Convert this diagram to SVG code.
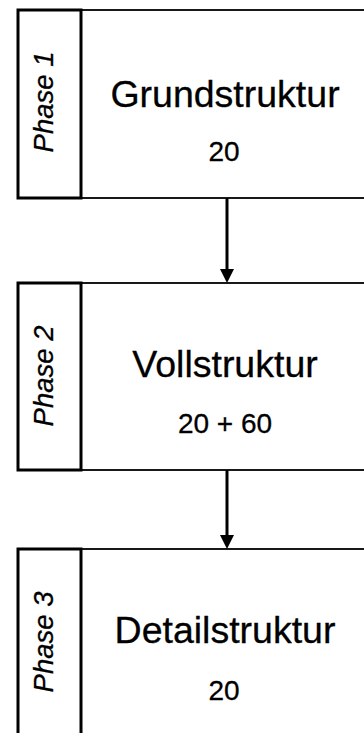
<svg xmlns="http://www.w3.org/2000/svg" width="364" height="733" viewBox="0 0 364 733">
<defs>
<style>
.main{fill:#fff;stroke:#000;stroke-width:1.8}
.tab{fill:#fff;stroke:#000;stroke-width:3}
.title{font-family:"Liberation Sans",Arial,sans-serif;font-size:37.5px;text-anchor:middle;fill:#000;stroke:#000;stroke-width:0.3}
.num{font-family:"Liberation Sans",Arial,sans-serif;font-size:28px;text-anchor:middle;fill:#000;stroke:#000;stroke-width:0.3}
.phase{font-family:"Liberation Sans",Arial,sans-serif;font-size:27.5px;font-style:italic;text-anchor:middle;fill:#000;stroke:#000;stroke-width:0.3}
.conn{stroke:#000;stroke-width:3;fill:none}
</style>
<marker id="arr" markerWidth="15" markerHeight="14" refX="14" refY="7" orient="auto" markerUnits="userSpaceOnUse" viewBox="0 0 14 14">
<path d="M0,0 L14,7 L0,14 Z" fill="#000"/>
</marker>
</defs>
<rect width="364" height="733" fill="#fff"/>
<g id="node1">
<rect class="main" x="81" y="10" width="300" height="188"/>
<rect class="tab" x="18" y="10" width="63" height="188"/>
<text class="phase" transform="translate(53,102) rotate(-90)">Phase 1</text>
<text class="title" x="225" y="107">Grundstruktur</text>
<text class="num" x="224" y="161">20</text>
</g>
<g id="node2">
<rect class="main" x="81" y="283" width="300" height="187"/>
<rect class="tab" x="18" y="283" width="63" height="187"/>
<text class="phase" transform="translate(53,376) rotate(-90)">Phase 2</text>
<text class="title" x="225" y="377">Vollstruktur</text>
<text class="num" x="225" y="433">20 + 60</text>
</g>
<g id="node3">
<rect class="main" x="81" y="549" width="300" height="200"/>
<rect class="tab" x="18" y="549" width="63" height="200"/>
<text class="phase" transform="translate(53,642) rotate(-90)">Phase 3</text>
<text class="title" x="225" y="643">Detailstruktur</text>
<text class="num" x="224" y="700">20</text>
</g>
<g id="connectors">
<line class="conn" x1="227" y1="198" x2="227" y2="271"/>
<path d="M220,269 L234,269 L227,283 Z" fill="#000"/>
<line class="conn" x1="227" y1="470" x2="227" y2="537"/>
<path d="M220,535 L234,535 L227,549 Z" fill="#000"/>
</g>
</svg>
